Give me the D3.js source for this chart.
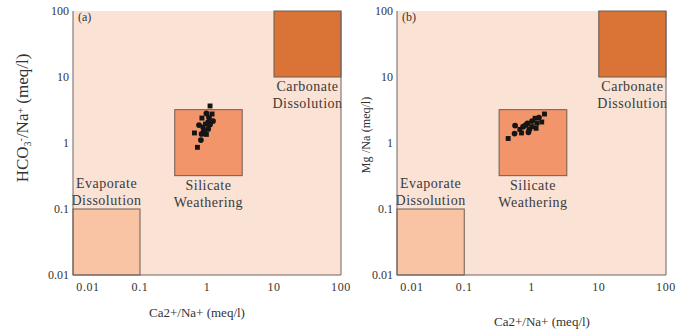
<!DOCTYPE html>
<html>
<head>
<meta charset="utf-8">
<script src="https://cdn.jsdelivr.net/npm/d3@7"></script>
</head>
<body style="margin:0">
<svg id="s" width="679" height="329"></svg>
<script>
// Data
const tickValues = [0.01, 0.1, 1, 10, 100];
const tickLabels = ["0.01", "0.1", "1", "10", "100"];

// region boxes (ratio extents)
const regionNames = [["Evaporate", "Dissolution"], ["Silicate", "Weathering"], ["Carbonate", "Dissolution"]];
const regionX = [[0.01, 0.1], [0.33, 3.35], [10, 100]];
const regionY = [[0.01, 0.1], [0.32, 3.2], [10, 100]];
const regionColors = ["#f8c4a4", "#f3956b", "#d97336"];

// panel (a) HCO3/Na vs Ca/Na
const aCa = [1.11, 0.98, 1.19, 1.07, 0.84, 1.23, 1.04, 0.76, 0.95, 1.11, 0.87, 1.04, 0.65, 0.83, 0.98, 0.81, 0.72, 0.90];
const aHco3 = [3.64, 2.80, 2.75, 2.43, 2.39, 2.15, 2.05, 1.87, 1.94, 1.91, 1.75, 1.63, 1.42, 1.37, 1.35, 1.11, 0.86, 1.52];

// panel (b) Mg/Na vs Ca/Na
const bCa = [1.56, 1.29, 1.13, 1.02, 1.42, 0.87, 1.20, 0.57, 1.01, 0.75, 0.67, 0.93, 1.17, 0.56, 0.71, 0.90, 0.45, 0.82];
const bMg = [2.75, 2.43, 2.37, 2.15, 2.08, 1.99, 1.99, 1.84, 1.77, 1.77, 1.61, 1.61, 1.67, 1.39, 1.42, 1.45, 1.17, 1.87];

const FONT = "Liberation Serif";

const svg = d3.select("#s");
svg.append("rect").attr("width", 679).attr("height", 329).attr("fill", "#ffffff");

// every text gets the font set on itself
function addText(parent, x, y, size, str) {
    return parent.append("text")
        .attr("x", x).attr("y", y)
        .attr("font-family", FONT)
        .attr("font-size", size)
        .attr("fill", "#333")
        .text(str);
}

function drawPanel(opts) {
    const x = d3.scaleLog().domain([0.01, 100]).range([opts.left, opts.right]);
    const y = d3.scaleLog().domain([0.01, 100]).range([275, 11]);
    const g = svg.append("g");

    // background
    g.append("rect")
        .attr("x", opts.left).attr("y", 11)
        .attr("width", opts.right - opts.left).attr("height", 264)
        .attr("fill", "#fae2d5");

    // region boxes + labels
    regionNames.forEach(function(name, i) {
        const x0 = x(regionX[i][0]), x1 = x(regionX[i][1]);
        const y0 = y(regionY[i][1]), y1 = y(regionY[i][0]);
        g.append("rect")
            .attr("x", x0).attr("y", y0)
            .attr("width", x1 - x0).attr("height", y1 - y0)
            .attr("fill", regionColors[i])
            .attr("stroke", "#6e5b55").attr("stroke-width", 1);

        const cx = (x0 + x1) / 2;
        // evaporate label sits above its box, the others below
        const ys = i === 0 ? [y0 - 21, y0 - 4] : [y1 + 14, y1 + 31];
        name.forEach(function(line, j) {
            addText(g, cx, ys[j], 14, line)
                .attr("text-anchor", "middle")
                .attr("letter-spacing", 0.5)
                .attr("fill", "#3a3a3a");
        });
    });

    // frame
    g.append("path")
        .attr("d", "M" + opts.left + ",11V275H" + opts.right + "V11")
        .attr("fill", "none").attr("stroke", "#6e6462").attr("stroke-width", 1);

    // points, squares and dots mixed like the original
    const sq = d3.symbol().type(d3.symbolSquare).size(24);
    const ci = d3.symbol().type(d3.symbolCircle).size(26);
    g.selectAll(".pt")
        .data(opts.xs.map((v, i) => [v, opts.ys[i]]))
        .enter().append("path")
        .attr("class", "pt")
        .attr("transform", d => "translate(" + x(d[0]) + "," + y(d[1]) + ")")
        .attr("d", (d, i) => i % 2 ? ci() : sq())
        .attr("fill", "#151515");

    // tick labels (no tick marks in the original)
    tickValues.forEach(function(v, i) {
        addText(g, opts.left - 4, y(v) + 4, 12, tickLabels[i])
            .attr("text-anchor", "end");
        addText(g, x(v) + (i === 0 ? 15 : 0), 291, 12, tickLabels[i])
            .attr("text-anchor", "middle")
            .attr("letter-spacing", 0.6);
    });

    // panel letter
    addText(g, opts.left + 5, 21, 12, opts.letter);

    // x title
    addText(g, opts.xTitleX, opts.xTitleY + 4, 13, "Ca2+/Na+ (meq/l)")
        .attr("text-anchor", "middle");
}

drawPanel({left: 73, right: 341, letter: "(a)", xs: aCa, ys: aHco3, xTitleX: 197, xTitleY: 313});
drawPanel({left: 397, right: 666, letter: "(b)", xs: bCa, ys: bMg, xTitleX: 542, xTitleY: 322});

// y titles
const ya = addText(svg, 0, 0, 17, null)
    .attr("transform", "translate(28,118) rotate(-90)")
    .attr("text-anchor", "middle");
ya.append("tspan").text("HCO");
ya.append("tspan").attr("baseline-shift", "-30%").attr("font-size", 10).text("3");
ya.append("tspan").attr("baseline-shift", "45%").attr("font-size", 10).text("-");
ya.append("tspan").text("/Na");
ya.append("tspan").attr("baseline-shift", "45%").attr("font-size", 10).text("+");
ya.append("tspan").text(" (meq/l)");

const yb = addText(svg, 0, 0, 12, null)
    .attr("transform", "translate(370,135) rotate(-90)")
    .attr("text-anchor", "middle");
yb.append("tspan").text("Mg");
yb.append("tspan").attr("baseline-shift", "45%").attr("font-size", 7).text("\u00a0\u00a0");
yb.append("tspan").text("/Na");
yb.append("tspan").attr("baseline-shift", "45%").attr("font-size", 7).text("\u00a0\u00a0");
yb.append("tspan").text("(meq/l)");
</script>
</body>
</html>
